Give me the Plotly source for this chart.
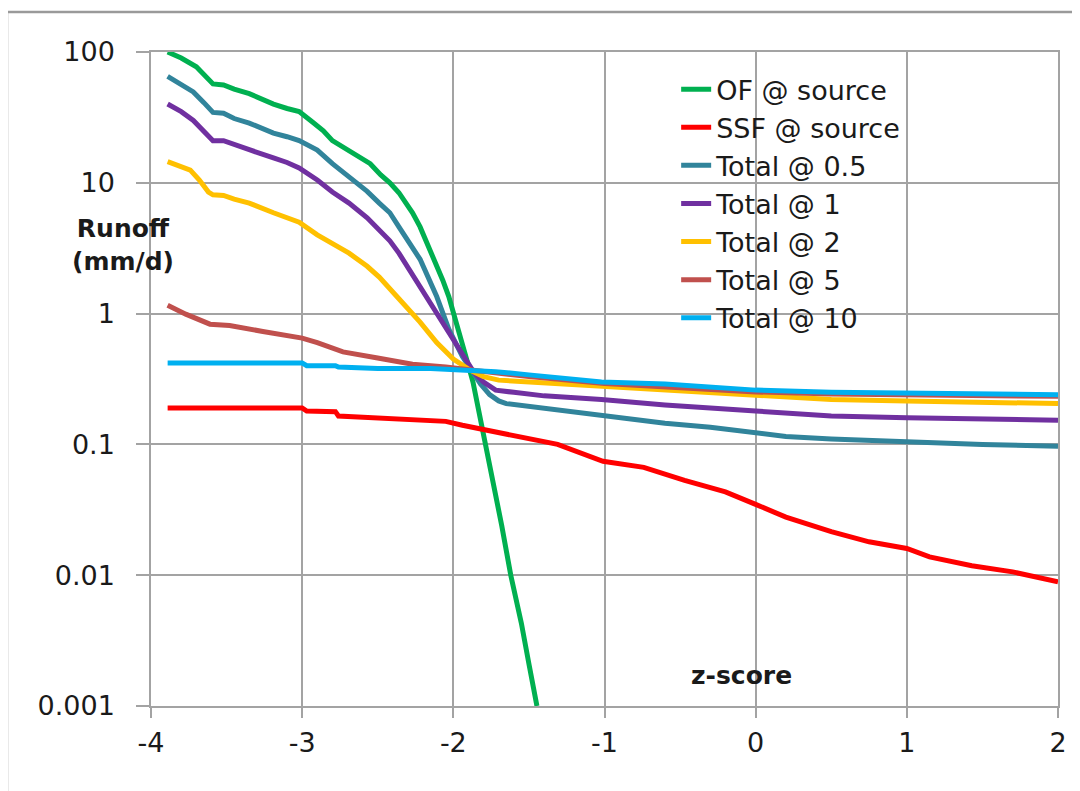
import plotly.graph_objects as go

# ---------------- data ----------------
of_z = [-3.89, -3.80, -3.70, -3.62, -3.59, -3.52, -3.45, -3.35, -3.19, -3.10, -3.02, -2.93,
        -2.86, -2.80, -2.71, -2.62, -2.55, -2.48, -2.42, -2.36, -2.31, -2.27, -2.22, -2.16,
        -2.11, -2.07, -2.03, -2.00, -1.96, -1.93, -1.90, -1.87, -1.85, -1.81, -1.76, -1.73,
        -1.68, -1.62, -1.55, -1.50, -1.447]
of_v = [100, 90, 77, 62, 57, 56, 52, 48, 40, 37, 35, 29,
        25, 21, 18, 15.5, 14, 11.5, 10, 8.4, 7.0, 5.9, 4.6, 3.2,
        2.4, 1.8, 1.35, 1.0, 0.72, 0.52, 0.40, 0.30, 0.23, 0.13, 0.072, 0.048,
        0.024, 0.010, 0.0043, 0.0021, 0.001]

ssf_z = [-3.89, -3.50, -3.00, -2.97, -2.78, -2.76, -2.50, -2.25, -2.05, -1.94, -1.80, -1.65,
         -1.50, -1.31, -1.01, -0.74, -0.47, -0.20, 0.00, 0.20, 0.50, 0.75, 1.00, 1.15,
         1.43, 1.70, 2.00]
ssf_v = [0.19, 0.19, 0.19, 0.18, 0.178, 0.165, 0.16, 0.155, 0.15, 0.14, 0.13, 0.12,
         0.11, 0.10, 0.0743, 0.0667, 0.053, 0.0434, 0.0348, 0.0278, 0.0215, 0.018, 0.016, 0.0138,
         0.0118, 0.0106, 0.0089]

t05_z = [-3.89, -3.80, -3.72, -3.65, -3.59, -3.52, -3.45, -3.35, -3.19, -3.10, -3.02, -2.90,
         -2.80, -2.69, -2.57, -2.49, -2.42, -2.36, -2.31, -2.22, -2.11, -2.03, -1.94, -1.87,
         -1.82, -1.76, -1.70, -1.65, -1.50, -1.30, -1.02, -0.60, -0.30, 0.00, 0.20, 0.50,
         1.00, 1.50, 2.00]
t05_v = [65, 57, 49.5, 41, 34.5, 34, 31, 28.6, 24, 22.5, 21, 17.8,
         14, 11.1, 8.6, 7.0, 5.9, 4.6, 3.8, 2.6, 1.35, 0.76, 0.47, 0.36,
         0.29, 0.24, 0.215, 0.205, 0.195, 0.18, 0.165, 0.145, 0.135, 0.124, 0.115, 0.11,
         0.104, 0.10, 0.097]

t1_z = [-3.89, -3.80, -3.72, -3.65, -3.59, -3.52, -3.45, -3.35, -3.19, -3.10, -3.02, -2.90,
        -2.80, -2.69, -2.57, -2.49, -2.42, -2.36, -2.22, -2.11, -2.00, -1.91, -1.86, -1.80,
        -1.72, -1.60, -1.40, -1.02, -0.60, 0.00, 0.50, 1.00, 1.50, 2.00]
t1_v = [40, 35, 30, 25, 21, 21, 19.5, 17.9, 15.5, 14.3, 13, 10.5,
        8.5, 7.0, 5.4, 4.4, 3.6, 2.9, 1.6, 1.0, 0.63, 0.42, 0.35, 0.30,
        0.26, 0.25, 0.235, 0.22, 0.20, 0.18, 0.165, 0.16, 0.155, 0.153]

t2_z = [-3.89, -3.80, -3.74, -3.68, -3.62, -3.59, -3.52, -3.45, -3.35, -3.19, -3.10, -3.02,
        -2.90, -2.80, -2.69, -2.57, -2.49, -2.36, -2.22, -2.11, -2.00, -1.89, -1.80, -1.70,
        -1.50, -1.30, -1.02, -0.60, 0.00, 0.50, 1.00, 1.50, 2.00]
t2_v = [14.5, 13.3, 12.5, 10.5, 8.5, 8.1, 8.0, 7.5, 7.0, 5.9, 5.4, 5.0,
        4.0, 3.4, 2.9, 2.3, 1.9, 1.3, 0.86, 0.6, 0.45, 0.37, 0.33, 0.31,
        0.30, 0.29, 0.28, 0.26, 0.235, 0.22, 0.215, 0.21, 0.205]

t5_z = [-3.89, -3.77, -3.61, -3.48, -3.26, -3.00, -2.90, -2.73, -2.51, -2.27, -2.05, -1.89,
        -1.50, -1.00, -0.50, 0.00, 0.50, 1.00, 2.00]
t5_v = [1.16, 0.99, 0.83, 0.81, 0.73, 0.65, 0.60, 0.51, 0.46, 0.41, 0.39, 0.37,
        0.33, 0.292, 0.272, 0.252, 0.243, 0.238, 0.233]

t10_z = [-3.89, -3.00, -2.97, -2.78, -2.76, -2.50, -2.15, -1.94, -1.72, -1.50, -1.30, -1.02,
         -0.60, 0.00, 0.50, 1.00, 1.50, 2.00]
t10_v = [0.42, 0.42, 0.40, 0.40, 0.39, 0.38, 0.38, 0.37, 0.36, 0.34, 0.32, 0.30,
         0.29, 0.26, 0.25, 0.245, 0.24, 0.24]

series = [
    ("OF @ source", of_z, of_v, "#00B050"),
    ("SSF @ source", ssf_z, ssf_v, "#FF0000"),
    ("Total @ 0.5", t05_z, t05_v, "#31849B"),
    ("Total @ 1", t1_z, t1_v, "#7030A0"),
    ("Total @ 2", t2_z, t2_v, "#FFC000"),
    ("Total @ 5", t5_z, t5_v, "#C0504D"),
    ("Total @ 10", t10_z, t10_v, "#00B0F0"),
]

x_ticks = [-4, -3, -2, -1, 0, 1, 2]
y_ticks = [0.001, 0.01, 0.1, 1, 10, 100]
y_ticktext = ["0.001", "0.01", "0.1", "1", "10", "100"]

FONT = "DejaVu Sans"
GRID = "#a3a3a3"

fig = go.Figure()
for name, z, v, col in series:
    fig.add_trace(go.Scatter(x=z, y=v, mode="lines", name=name,
                             line=dict(color=col, width=5)))

fig.update_layout(
    width=1080, height=791,
    margin=dict(l=143, r=30, t=44, b=93),
    paper_bgcolor="white", plot_bgcolor="white",
    font=dict(family=FONT, size=26, color="#1a1a1a"),
    showlegend=True,
    legend=dict(x=0.579, y=0.980, xanchor="left", yanchor="top",
                bgcolor="rgba(255,255,255,0)", borderwidth=0,
                font=dict(family=FONT, size=27, color="#1a1a1a"),
                itemwidth=30, tracegroupgap=0),
)

fig.update_xaxes(
    range=[-4, 2], tickvals=x_ticks, ticktext=[str(t) for t in x_ticks],
    showgrid=True, gridcolor=GRID, gridwidth=1.5,
    showline=True, linecolor=GRID, linewidth=1.5, mirror=True,
    ticks="outside", ticklen=10, tickcolor=GRID, tickwidth=1.5,
    ticklabelstandoff=2, zeroline=False,
    tickfont=dict(family=FONT, size=27, color="#1a1a1a"),
)
fig.update_yaxes(
    type="log", range=[-3, 2], tickvals=y_ticks, ticktext=y_ticktext,
    showgrid=True, gridcolor=GRID, gridwidth=1.5,
    showline=True, linecolor=GRID, linewidth=1.5, mirror=True,
    ticks="outside", ticklen=13, tickcolor=GRID, tickwidth=1.5,
    ticklabelstandoff=16, zeroline=False,
    tickfont=dict(family=FONT, size=27, color="#1a1a1a"),
)

fig.add_annotation(text="<b>Runoff<br>(mm/d)</b>", xref="paper", yref="paper",
                   x=-0.031, y=0.705, xanchor="center", yanchor="middle",
                   showarrow=False, align="center",
                   font=dict(family=FONT, size=25, color="#1a1a1a"))
fig.add_annotation(text="<b>z-score</b>", xref="paper", yref="paper",
                   x=0.6505, y=0.0459, xanchor="center", yanchor="middle",
                   showarrow=False,
                   font=dict(family=FONT, size=25, color="#1a1a1a"))

# outer chart-area frame (top and left edges visible in the reference)
fig.add_shape(type="rect", xref="paper", yref="paper",
              x0=-0.1588, x1=1.06, y0=-0.18, y1=1.0612,
              line=dict(color="#9a9a9a", width=2.5), layer="below")

fig.write_html("out.html")
